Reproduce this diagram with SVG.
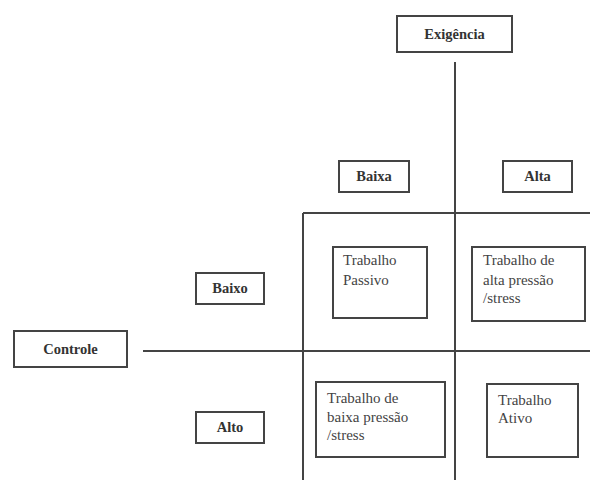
<svg xmlns="http://www.w3.org/2000/svg" width="590" height="480" viewBox="0 0 590 480">
<style>
.box{fill:#fff;stroke:#444;stroke-width:2}
.ln{stroke:#444;stroke-width:2;fill:none}
.lbl{font-family:"Liberation Serif",serif;font-size:14.5px;font-weight:bold;fill:#333;text-anchor:middle}
.txt{font-family:"Liberation Serif",serif;font-size:15px;fill:#444}
</style>
<rect width="590" height="480" fill="#fff"/>
<g id="connectors">
<line class="ln" x1="455" y1="62" x2="455" y2="480"/>
<line class="ln" x1="143" y1="351" x2="590" y2="351"/>
<line class="ln" x1="303" y1="213" x2="590" y2="213"/>
<line class="ln" x1="303" y1="213" x2="303" y2="480"/>
</g>
<g id="exigencia"><rect class="box" x="397" y="16" width="115" height="36"/><text class="lbl" x="454.5" y="39">Exigência</text></g>
<g id="baixa"><rect class="box" x="339" y="161" width="70" height="31"/><text class="lbl" x="374" y="181">Baixa</text></g>
<g id="alta"><rect class="box" x="503" y="161" width="69" height="31"/><text class="lbl" x="537.5" y="181">Alta</text></g>
<g id="baixo"><rect class="box" x="196" y="273" width="68" height="31"/><text class="lbl" x="230" y="293">Baixo</text></g>
<g id="controle"><rect class="box" x="14" y="331" width="113" height="36"/><text class="lbl" x="70.5" y="354">Controle</text></g>
<g id="alto"><rect class="box" x="196" y="412" width="68" height="31"/><text class="lbl" x="230" y="432">Alto</text></g>
<g id="passivo"><rect class="box" x="333" y="247" width="94" height="71"/><text class="txt" x="343" y="265">Trabalho</text><text class="txt" x="343" y="285">Passivo</text></g>
<g id="altapressao"><rect class="box" x="472" y="247" width="113" height="74"/><text class="txt" x="483" y="265">Trabalho de</text><text class="txt" x="483" y="285">alta pressão</text><text class="txt" x="483" y="303">/stress</text></g>
<g id="baixapressao"><rect class="box" x="316" y="382" width="129" height="75"/><text class="txt" x="327" y="403">Trabalho de</text><text class="txt" x="327" y="422">baixa pressão</text><text class="txt" x="327" y="440">/stress</text></g>
<g id="ativo"><rect class="box" x="487" y="384" width="91" height="73"/><text class="txt" x="498" y="405">Trabalho</text><text class="txt" x="498" y="423">Ativo</text></g>
</svg>
